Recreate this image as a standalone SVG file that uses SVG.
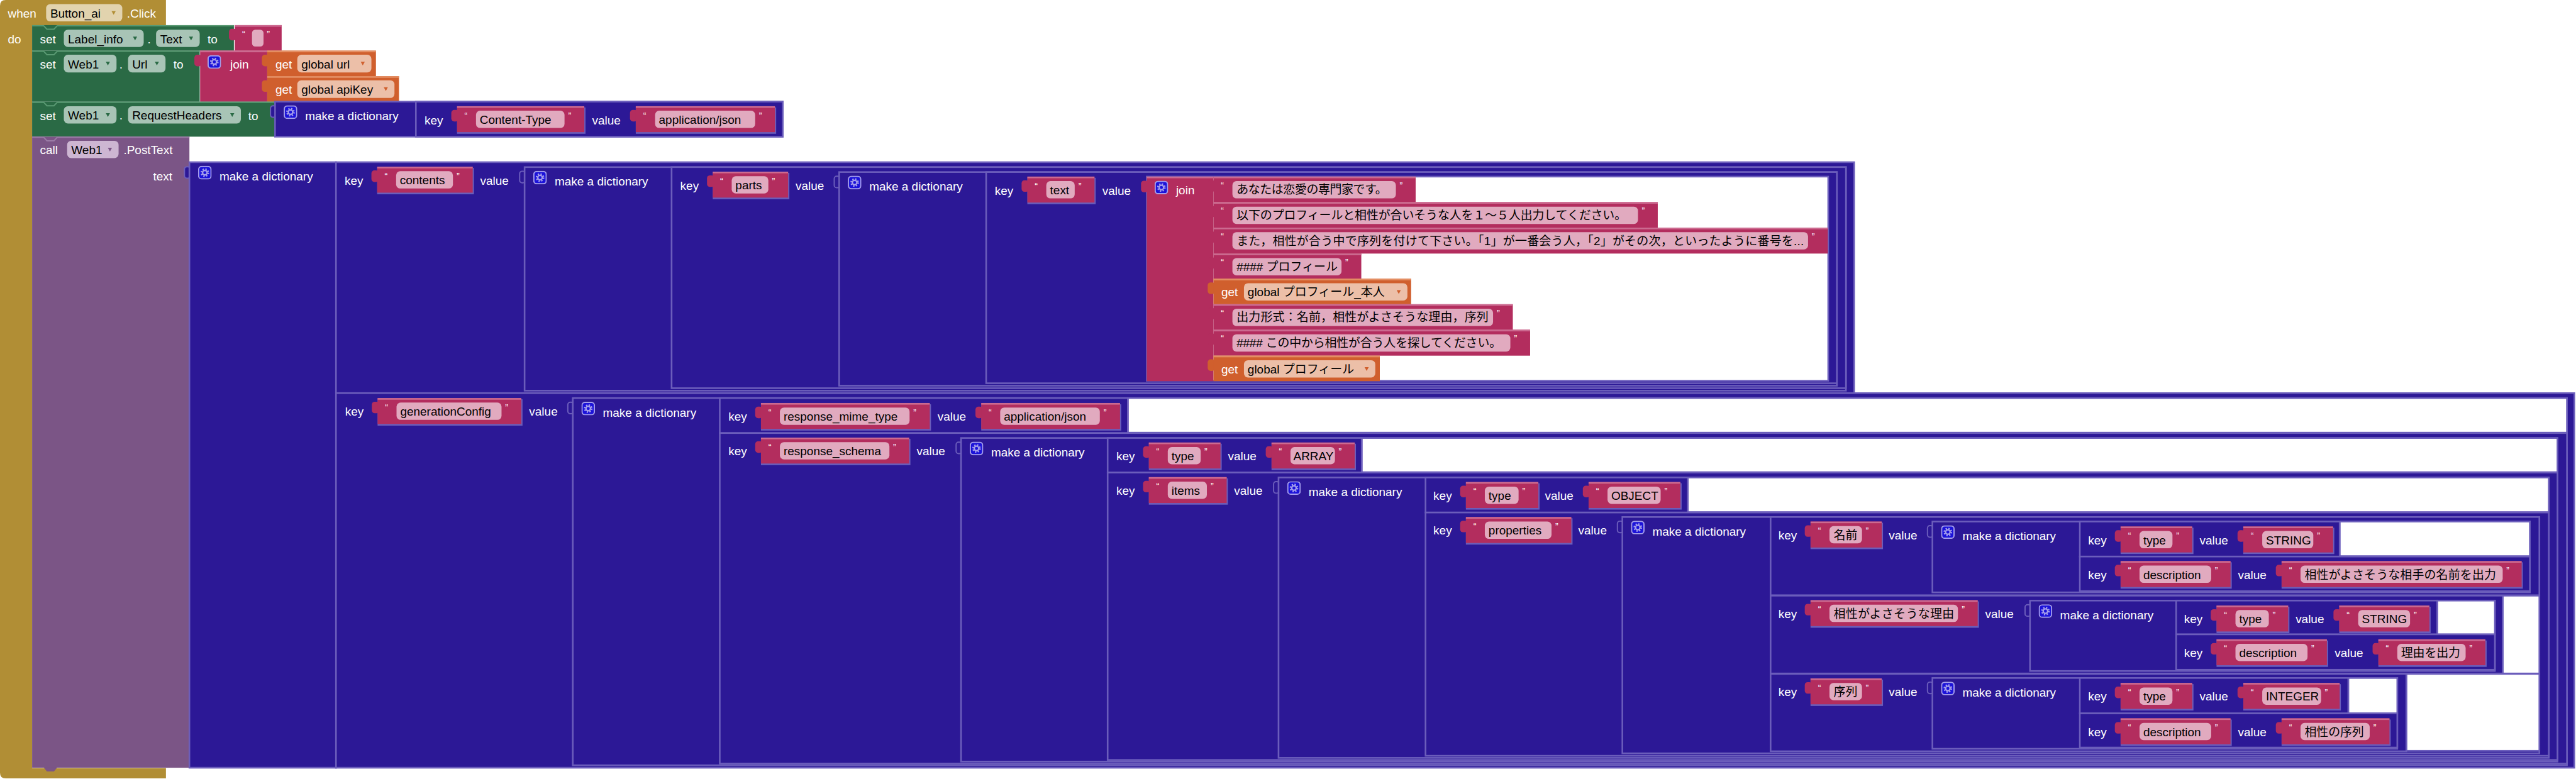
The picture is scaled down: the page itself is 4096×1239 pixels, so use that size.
<svg xmlns="http://www.w3.org/2000/svg" width="4096" height="1239" viewBox="0 0 4096 1239">
<defs>
<style>
.l{font-family:"Liberation Sans",Arial,"Noto Sans CJK JP",sans-serif;font-size:29px}
.w{fill:#fff}
.k{fill:#000}
.q{font-size:22px;fill:#fff}
.ev{fill:#B18E35}
.gr{fill:#2A6A45}
.fg{fill:#A8C4B6}
.cl{fill:#7B5586}
.fc{fill:#CDB6D2}
.fe{fill:#E2D3AE}
.dc{fill:#2C1896;stroke:#6B5DBB;stroke-width:4}
.hole{fill:#fff;stroke:#6B5DBB;stroke-width:4}
.tab{fill:#2C1896;stroke:#6B5DBB;stroke-width:3}
.tx{fill:#B32D5E}
.hl{fill:#CC6A90}
.sk{fill:#6B5DBB}
.tf{fill:#E1AABF}
.gt{fill:#D05F2D}
.gh{fill:#E48E63}
.gf{fill:#ECBFA8}
.nh{fill:none;stroke-width:3}
</style>
<symbol id="gear" viewBox="0 0 33 33">
<rect x="1.5" y="1.5" width="30" height="30" rx="7" fill="#1B12D9" stroke="#A49DEB" stroke-width="3"/>
<circle cx="16.5" cy="16.5" r="8.5" fill="none" stroke="#A49DEB" stroke-width="4" stroke-dasharray="3.3 3.4"/>
<circle cx="16.5" cy="16.5" r="5.5" fill="none" stroke="#A49DEB" stroke-width="3.5"/>
</symbol>
</defs>
<rect width="4096" height="1239" fill="#fff"/>
<g transform="scale(0.654731)">

<g id="event-button-click">
<path class="ev" d="M0,14 Q0,0 14,0 H403 V61 H78 V1866 H403 V1891 H14 Q0,1891 0,1877 Z"/>
<text class="l w" x="19" y="43">when</text>
<rect class="fe" x="112" y="10" width="185" height="42" rx="10"/>
<text class="l k" x="122" y="43">Button_ai</text>
<polygon class="ev" points="271,27 281,27 276,36"/>
<text class="l w" x="308" y="43">.Click</text>
<text class="l w" x="19" y="106">do</text>
</g>

<g id="set-label-text">
<rect class="gr" x="78" y="61" width="490" height="62"/>
<path class="nh" stroke="#5A9A73" d="M78,62.5 H106 L114,71 H131 L139,62.5 H568"/>
<text class="l w" x="97" y="105">set</text>
<rect class="fg" x="155" y="72" width="194" height="42" rx="10"/>
<text class="l k" x="165" y="105">Label_info</text>
<polygon class="gr" points="323,89 333,89 328,98"/>
<text class="l w" x="358" y="105">.</text>
<rect class="fg" x="379" y="72" width="106" height="42" rx="10"/>
<text class="l k" x="389" y="105">Text</text>
<polygon class="gr" points="459,89 469,89 464,98"/>
<text class="l w" x="504" y="105">to</text>
<g id="str-empty">
<rect class="tx" x="556" y="70" width="18" height="28" rx="7"/>
<rect class="tx" x="570" y="61" width="114" height="62"/>
<rect class="hl" x="570" y="61" width="114" height="4"/>
<rect class="tf" x="612" y="72" width="28" height="41" rx="8"/>
<text class="l q" x="588" y="90">“</text>
<text class="l q" x="648" y="90">”</text>
</g>
</g>

<g id="set-web-url">
<rect class="gr" x="78" y="123" width="407" height="124"/>
<path class="nh" stroke="#5A9A73" d="M78,124.5 H106 L114,133 H131 L139,124.5 H485"/>
<text class="l w" x="97" y="166">set</text>
<rect class="fg" x="155" y="133" width="128" height="43" rx="10"/>
<text class="l k" x="165" y="166">Web1</text>
<polygon class="gr" points="257,150 267,150 262,159"/>
<text class="l w" x="290" y="166">.</text>
<rect class="fg" x="311" y="133" width="91" height="43" rx="10"/>
<text class="l k" x="321" y="166">Url</text>
<polygon class="gr" points="376,150 386,150 381,159"/>
<text class="l w" x="421" y="166">to</text>
<g id="join-url">
<rect class="tx" x="472" y="133" width="18" height="28" rx="7"/>
<rect class="tx" x="486" y="123" width="163" height="124"/>
<rect class="hl" x="486" y="123" width="163" height="4"/>
<use href="#gear" x="504" y="134" width="33" height="33"/>
<text class="l w" x="559" y="166">join</text>
<g id="get-url">
<rect class="gt" x="636" y="133" width="18" height="28" rx="7"/>
<rect class="gt" x="649" y="123" width="264" height="62"/>
<rect class="gh" x="649" y="123" width="264" height="4"/>
<text class="l w" x="669" y="166">get</text>
<rect class="gf" x="722" y="133" width="180" height="43" rx="10"/>
<text class="l k" x="732" y="166">global url</text>
<polygon class="gt" points="876,150 886,150 881,159"/>
</g>
<g id="get-apikey">
<rect class="gt" x="636" y="195" width="18" height="28" rx="7"/>
<rect class="gt" x="649" y="185" width="320" height="62"/>
<rect class="gh" x="649" y="185" width="320" height="4"/>
<text class="l w" x="669" y="228">get</text>
<rect class="gf" x="722" y="195" width="236" height="43" rx="10"/>
<text class="l k" x="732" y="228">global apiKey</text>
<polygon class="gt" points="932,212 942,212 937,221"/>
</g>
</g>
</g>

<g id="set-web-headers">
<rect class="gr" x="78" y="247" width="590" height="85"/>
<path class="nh" stroke="#5A9A73" d="M78,248.5 H106 L114,257 H131 L139,248.5 H668"/>
<text class="l w" x="97" y="291">set</text>
<rect class="fg" x="155" y="258" width="128" height="42" rx="10"/>
<text class="l k" x="165" y="290">Web1</text>
<polygon class="gr" points="257,275 267,275 262,284"/>
<text class="l w" x="290" y="290">.</text>
<rect class="fg" x="311" y="258" width="274" height="42" rx="10"/>
<text class="l k" x="321" y="290">RequestHeaders</text>
<polygon class="gr" points="559,275 569,275 564,284"/>
<text class="l w" x="603" y="291">to</text>
<g id="dict-headers">
<rect class="tab" x="657" y="257" width="14" height="28" rx="6"/>
<rect class="dc" x="668" y="247" width="1233" height="85"/>
<use href="#gear" x="689" y="256" width="33" height="33"/>
<text class="l w" x="741" y="292">make a dictionary</text>
<g id="pair-content-type">
<rect class="dc" x="1010" y="247" width="891" height="85"/>
<text class="l w" x="1031" y="302">key</text>
<g><rect class="sk" x="1110" y="261" width="312" height="64"/><rect class="tx" x="1096" y="267" width="18" height="28" rx="7"/><rect class="tx" x="1110" y="258" width="309" height="63"/><rect class="hl" x="1110" y="258" width="309" height="4"/><rect class="tf" x="1156" y="269" width="215" height="42" rx="10"/><text class="l q" x="1128" y="288">“</text><text class="l k" x="1165" y="301">Content-Type</text><text class="l q" x="1380" y="288">”</text></g>
<text class="l w" x="1438" y="302">value</text>
<g><rect class="sk" x="1544" y="261" width="341" height="64"/><rect class="tx" x="1530" y="267" width="18" height="28" rx="7"/><rect class="tx" x="1544" y="258" width="338" height="63"/><rect class="hl" x="1544" y="258" width="338" height="4"/><rect class="tf" x="1591" y="269" width="243" height="42" rx="10"/><text class="l q" x="1562" y="288">“</text><text class="l k" x="1600" y="301">application/json</text><text class="l q" x="1843" y="288">”</text></g>
</g>
</g>
</g>

<g id="call-web-posttext">
<rect class="cl" x="78" y="332" width="382" height="1533"/>
<polygon class="cl" points="106,1864 139,1864 131,1874 114,1874"/>
<path class="nh" stroke="#9B7BA6" d="M78,333.5 H106 L114,342 H131 L139,333.5 H460"/>
<text class="l w" x="97" y="374">call</text>
<rect class="fc" x="163" y="342" width="125" height="42" rx="10"/>
<text class="l k" x="173" y="374">Web1</text>
<polygon class="cl" points="262,359 272,359 267,368"/>
<text class="l w" x="300" y="374">.PostText</text>
<text class="l w" x="372" y="438">text</text>

<g id="dict-body">
<rect class="tab" x="448" y="405" width="14" height="28" rx="6"/>
<rect class="dc" x="460" y="394" width="356" height="1471"/>
<use href="#gear" x="481" y="403" width="33" height="33"/>
<text class="l w" x="533" y="438">make a dictionary</text>

<g id="pair-contents">
<rect class="dc" x="816" y="394" width="3687" height="561"/>
<text class="l w" x="837" y="449">key</text>
<g><rect class="sk" x="916" y="408" width="235" height="64"/><rect class="tx" x="902" y="414" width="18" height="28" rx="7"/><rect class="tx" x="916" y="405" width="232" height="63"/><rect class="hl" x="916" y="405" width="232" height="4"/><rect class="tf" x="962" y="416" width="138" height="42" rx="10"/><text class="l q" x="934" y="435">“</text><text class="l k" x="971" y="448">contents</text><text class="l q" x="1109" y="435">”</text></g>
<text class="l w" x="1166" y="449">value</text>
<g id="dict-contents">
<rect class="tab" x="1262" y="416" width="14" height="28" rx="6"/>
<rect class="dc" x="1274" y="406" width="3209" height="543"/>
<use href="#gear" x="1295" y="415" width="33" height="33"/>
<text class="l w" x="1347" y="451">make a dictionary</text>
<g id="pair-parts">
<rect class="dc" x="1631" y="406" width="2852" height="537"/>
<text class="l w" x="1652" y="461">key</text>
<g><rect class="sk" x="1731" y="420" width="186" height="64"/><rect class="tx" x="1717" y="426" width="18" height="28" rx="7"/><rect class="tx" x="1731" y="417" width="183" height="63"/><rect class="hl" x="1731" y="417" width="183" height="4"/><rect class="tf" x="1777" y="428" width="89" height="42" rx="10"/><text class="l q" x="1749" y="447">“</text><text class="l k" x="1786" y="460">parts</text><text class="l q" x="1875" y="447">”</text></g>
<text class="l w" x="1932" y="461">value</text>
<g id="dict-parts">
<rect class="tab" x="2026" y="428" width="14" height="28" rx="6"/>
<rect class="dc" x="2038" y="418" width="2423" height="519"/>
<use href="#gear" x="2059" y="427" width="33" height="33"/>
<text class="l w" x="2111" y="463">make a dictionary</text>
<g id="pair-text">
<rect class="dc" x="2395" y="418" width="2066" height="513"/>
<text class="l w" x="2416" y="473">key</text>
<g><rect class="sk" x="2495" y="432" width="166" height="64"/><rect class="tx" x="2481" y="438" width="18" height="28" rx="7"/><rect class="tx" x="2495" y="429" width="163" height="63"/><rect class="hl" x="2495" y="429" width="163" height="4"/><rect class="tf" x="2541" y="440" width="69" height="42" rx="10"/><text class="l q" x="2513" y="459">“</text><text class="l k" x="2550" y="472">text</text><text class="l q" x="2619" y="459">”</text></g>
<text class="l w" x="2677" y="473">value</text>
<rect class="hole" x="2785" y="429" width="1655" height="496"/>
<g id="join-prompt">
<rect class="tx" x="2771" y="439" width="18" height="28" rx="7"/>
<rect class="tx" x="2785" y="429" width="162" height="497"/>
<rect class="hl" x="2785" y="429" width="162" height="4"/>
<use href="#gear" x="2804" y="439" width="33" height="33"/>
<text class="l w" x="2856" y="472">join</text>
<g><rect class="tx" x="2933" y="438" width="18" height="28" rx="7"/><rect class="tx" x="2947" y="429" width="491" height="62"/><rect class="hl" x="2947" y="429" width="491" height="4"/><rect class="tf" x="2993" y="440" width="397" height="42" rx="10"/><text class="l q" x="2965" y="458">“</text><text class="l k" x="3003" y="471" textLength="366">あなたは恋愛の専門家です。</text><text class="l q" x="3399" y="458">”</text></g>
<g><rect class="tx" x="2933" y="500" width="18" height="28" rx="7"/><rect class="tx" x="2947" y="491" width="1079" height="62"/><rect class="hl" x="2947" y="491" width="1079" height="4"/><rect class="tf" x="2993" y="502" width="985" height="42" rx="10"/><text class="l q" x="2965" y="520">“</text><text class="l k" x="3003" y="533" textLength="947">以下のプロフィールと相性が合いそうな人を１〜５人出力してください。</text><text class="l q" x="3987" y="520">”</text></g>
<g><rect class="tx" x="2933" y="562" width="18" height="28" rx="7"/><rect class="tx" x="2947" y="553" width="1492" height="63"/><rect class="hl" x="2947" y="553" width="1492" height="4"/><rect class="tf" x="2993" y="564" width="1398" height="42" rx="10"/><text class="l q" x="2965" y="582">“</text><text class="l k" x="3003" y="595" textLength="1378">また，相性が合う中で序列を付けて下さい。「1」が一番会う人，「2」がその次，といったように番号を...</text><text class="l q" x="4400" y="582">”</text></g>
<g><rect class="tx" x="2933" y="625" width="18" height="28" rx="7"/><rect class="tx" x="2947" y="616" width="359" height="61"/><rect class="hl" x="2947" y="616" width="359" height="4"/><rect class="tf" x="2993" y="627" width="265" height="42" rx="10"/><text class="l q" x="2965" y="645">“</text><text class="l k" x="3003" y="658">#### プロフィール</text><text class="l q" x="3267" y="645">”</text></g>
<g><rect class="gt" x="2933" y="686" width="18" height="28" rx="7"/><rect class="gt" x="2947" y="677" width="480" height="62"/><rect class="gh" x="2947" y="677" width="480" height="4"/><text class="l w" x="2966" y="720">get</text><rect class="gf" x="3021" y="688" width="397" height="42" rx="10"/><text class="l k" x="3030" y="720">global プロフィール_本人</text><polygon class="gt" points="3392,705 3402,705 3397,714"/></g>
<g><rect class="tx" x="2933" y="748" width="18" height="28" rx="7"/><rect class="tx" x="2947" y="739" width="727" height="62"/><rect class="hl" x="2947" y="739" width="727" height="4"/><rect class="tf" x="2993" y="750" width="633" height="42" rx="10"/><text class="l q" x="2965" y="768">“</text><text class="l k" x="3003" y="781" textLength="612">出力形式：名前，相性がよさそうな理由，序列</text><text class="l q" x="3635" y="768">”</text></g>
<g><rect class="tx" x="2933" y="810" width="18" height="28" rx="7"/><rect class="tx" x="2947" y="801" width="769" height="63"/><rect class="hl" x="2947" y="801" width="769" height="4"/><rect class="tf" x="2993" y="812" width="675" height="42" rx="10"/><text class="l q" x="2965" y="830">“</text><text class="l k" x="3003" y="843" textLength="643">#### この中から相性が合う人を探してください。</text><text class="l q" x="3677" y="830">”</text></g>
<g><rect class="gt" x="2933" y="873" width="18" height="28" rx="7"/><rect class="gt" x="2947" y="864" width="404" height="62"/><rect class="gh" x="2947" y="864" width="404" height="4"/><text class="l w" x="2966" y="907">get</text><rect class="gf" x="3021" y="875" width="319" height="42" rx="10"/><text class="l k" x="3030" y="907">global プロフィール</text><polygon class="gt" points="3314,892 3324,892 3319,901"/></g>
</g>
</g>
</g>
</g>
</g>
</g>

<g id="pair-generationconfig">
<rect class="dc" x="816" y="955" width="5436" height="910"/>
<text class="l w" x="838" y="1010">key</text>
<g><rect class="sk" x="917" y="970" width="352" height="64"/><rect class="tx" x="903" y="976" width="18" height="28" rx="7"/><rect class="tx" x="917" y="967" width="349" height="63"/><rect class="hl" x="917" y="967" width="349" height="4"/><rect class="tf" x="963" y="978" width="255" height="42" rx="10"/><text class="l q" x="935" y="997">“</text><text class="l k" x="972" y="1010">generationConfig</text><text class="l q" x="1227" y="997">”</text></g>
<text class="l w" x="1285" y="1010">value</text>
<g id="dict-generationconfig">
<rect class="tab" x="1379" y="977" width="14" height="28" rx="6"/>
<rect class="dc" x="1391" y="967" width="4843" height="892"/>
<rect class="hole" x="2739" y="967" width="3495" height="84"/>
<use href="#gear" x="1412" y="976" width="33" height="33"/>
<text class="l w" x="1464" y="1012">make a dictionary</text>
<g id="pair-mime">
<rect class="dc" x="1748" y="967" width="991" height="85"/>
<text class="l w" x="1769" y="1022">key</text>
<g><rect class="sk" x="1848" y="982" width="413" height="64"/><rect class="tx" x="1834" y="988" width="18" height="28" rx="7"/><rect class="tx" x="1848" y="979" width="410" height="63"/><rect class="hl" x="1848" y="979" width="410" height="4"/><rect class="tf" x="1894" y="990" width="315" height="42" rx="10"/><text class="l q" x="1866" y="1009">“</text><text class="l k" x="1903" y="1022">response_mime_type</text><text class="l q" x="2218" y="1009">”</text></g>
<text class="l w" x="2277" y="1022">value</text>
<g><rect class="sk" x="2383" y="982" width="340" height="64"/><rect class="tx" x="2369" y="988" width="18" height="28" rx="7"/><rect class="tx" x="2383" y="979" width="337" height="63"/><rect class="hl" x="2383" y="979" width="337" height="4"/><rect class="tf" x="2429" y="990" width="242" height="42" rx="10"/><text class="l q" x="2401" y="1009">“</text><text class="l k" x="2438" y="1022">application/json</text><text class="l q" x="2680" y="1009">”</text></g>
</g>
<g id="pair-schema">
<rect class="dc" x="1748" y="1052" width="4486" height="803"/>
<text class="l w" x="1769" y="1106">key</text>
<g><rect class="sk" x="1848" y="1066" width="363" height="64"/><rect class="tx" x="1834" y="1072" width="18" height="28" rx="7"/><rect class="tx" x="1848" y="1063" width="360" height="63"/><rect class="hl" x="1848" y="1063" width="360" height="4"/><rect class="tf" x="1894" y="1074" width="266" height="42" rx="10"/><text class="l q" x="1866" y="1093">“</text><text class="l k" x="1903" y="1106">response_schema</text><text class="l q" x="2169" y="1093">”</text></g>
<text class="l w" x="2226" y="1106">value</text>
<g id="dict-schema">
<rect class="tab" x="2322" y="1074" width="14" height="28" rx="6"/>
<rect class="dc" x="2334" y="1064" width="3877" height="786"/>
<rect class="hole" x="3307" y="1064" width="2904" height="83"/>
<use href="#gear" x="2355" y="1073" width="33" height="33"/>
<text class="l w" x="2407" y="1109">make a dictionary</text>
<g id="pair-type-array">
<rect class="dc" x="2690" y="1064" width="617" height="84"/>
<text class="l w" x="2711" y="1118">key</text>
<g><rect class="sk" x="2790" y="1078" width="177" height="64"/><rect class="tx" x="2776" y="1084" width="18" height="28" rx="7"/><rect class="tx" x="2790" y="1075" width="174" height="63"/><rect class="hl" x="2790" y="1075" width="174" height="4"/><rect class="tf" x="2836" y="1086" width="80" height="42" rx="10"/><text class="l q" x="2808" y="1105">“</text><text class="l k" x="2845" y="1118">type</text><text class="l q" x="2925" y="1105">”</text></g>
<text class="l w" x="2982" y="1118">value</text>
<g><rect class="sk" x="3088" y="1078" width="205" height="64"/><rect class="tx" x="3074" y="1084" width="18" height="28" rx="7"/><rect class="tx" x="3088" y="1075" width="202" height="63"/><rect class="hl" x="3088" y="1075" width="202" height="4"/><rect class="tf" x="3134" y="1086" width="108" height="42" rx="10"/><text class="l q" x="3106" y="1105">“</text><text class="l k" x="3141" y="1118">ARRAY</text><text class="l q" x="3251" y="1105">”</text></g>
</g>
<g id="pair-items">
<rect class="dc" x="2690" y="1148" width="3521" height="698"/>
<text class="l w" x="2711" y="1202">key</text>
<g><rect class="sk" x="2790" y="1162" width="192" height="64"/><rect class="tx" x="2776" y="1168" width="18" height="28" rx="7"/><rect class="tx" x="2790" y="1159" width="189" height="63"/><rect class="hl" x="2790" y="1159" width="189" height="4"/><rect class="tf" x="2836" y="1170" width="95" height="42" rx="10"/><text class="l q" x="2808" y="1189">“</text><text class="l k" x="2845" y="1202">items</text><text class="l q" x="2940" y="1189">”</text></g>
<text class="l w" x="2997" y="1202">value</text>
<g id="dict-items">
<rect class="tab" x="3093" y="1170" width="14" height="28" rx="6"/>
<rect class="dc" x="3105" y="1160" width="3085" height="681"/>
<rect class="hole" x="4099" y="1160" width="2091" height="84"/>
<use href="#gear" x="3126" y="1169" width="33" height="33"/>
<text class="l w" x="3178" y="1205">make a dictionary</text>
<g id="pair-type-object">
<rect class="dc" x="3462" y="1160" width="637" height="85"/>
<text class="l w" x="3481" y="1214">key</text>
<g><rect class="sk" x="3560" y="1174" width="179" height="64"/><rect class="tx" x="3546" y="1180" width="18" height="28" rx="7"/><rect class="tx" x="3560" y="1171" width="176" height="63"/><rect class="hl" x="3560" y="1171" width="176" height="4"/><rect class="tf" x="3606" y="1182" width="82" height="42" rx="10"/><text class="l q" x="3578" y="1201">“</text><text class="l k" x="3615" y="1214">type</text><text class="l q" x="3697" y="1201">”</text></g>
<text class="l w" x="3752" y="1214">value</text>
<g><rect class="sk" x="3858" y="1174" width="226" height="64"/><rect class="tx" x="3844" y="1180" width="18" height="28" rx="7"/><rect class="tx" x="3858" y="1171" width="223" height="63"/><rect class="hl" x="3858" y="1171" width="223" height="4"/><rect class="tf" x="3904" y="1182" width="129" height="42" rx="10"/><text class="l q" x="3876" y="1201">“</text><text class="l k" x="3913" y="1214">OBJECT</text><text class="l q" x="4042" y="1201">”</text></g>
</g>
<g id="pair-properties">
<rect class="dc" x="3462" y="1245" width="2728" height="591"/>
<text class="l w" x="3481" y="1299">key</text>
<g><rect class="sk" x="3560" y="1259" width="259" height="64"/><rect class="tx" x="3546" y="1265" width="18" height="28" rx="7"/><rect class="tx" x="3560" y="1256" width="256" height="63"/><rect class="hl" x="3560" y="1256" width="256" height="4"/><rect class="tf" x="3606" y="1267" width="162" height="42" rx="10"/><text class="l q" x="3578" y="1286">“</text><text class="l k" x="3615" y="1299">properties</text><text class="l q" x="3777" y="1286">”</text></g>
<text class="l w" x="3833" y="1299">value</text>
<g id="dict-properties">
<rect class="tab" x="3928" y="1266" width="14" height="28" rx="6"/>
<rect class="dc" x="3940" y="1256" width="2227" height="574"/>
<rect class="hole" x="6078" y="1447" width="89" height="189"/>
<rect class="hole" x="5844" y="1637" width="323" height="187"/>
<use href="#gear" x="3961" y="1265" width="33" height="33"/>
<text class="l w" x="4013" y="1301">make a dictionary</text>

<g id="pair-name">
<rect class="dc" x="4300" y="1256" width="1867" height="190"/>
<text class="l w" x="4319" y="1310">key</text>
<g><rect class="sk" x="4397" y="1270" width="176" height="64"/><rect class="tx" x="4383" y="1276" width="18" height="28" rx="7"/><rect class="tx" x="4397" y="1267" width="173" height="63"/><rect class="hl" x="4397" y="1267" width="173" height="4"/><rect class="tf" x="4443" y="1278" width="79" height="42" rx="10"/><text class="l q" x="4415" y="1297">“</text><text class="l k" x="4453" y="1310">名前</text><text class="l q" x="4531" y="1297">”</text></g>
<text class="l w" x="4587" y="1310">value</text>
<g id="dict-name">
<rect class="tab" x="4681" y="1277" width="14" height="28" rx="6"/>
<rect class="dc" x="4693" y="1267" width="1451" height="172"/>
<rect class="hole" x="5682" y="1267" width="462" height="84"/>
<use href="#gear" x="4714" y="1276" width="33" height="33"/>
<text class="l w" x="4766" y="1312">make a dictionary</text>
<g id="pair-name-type">
<rect class="dc" x="5051" y="1267" width="631" height="85"/>
<text class="l w" x="5071" y="1322">key</text>
<g><rect class="sk" x="5150" y="1282" width="177" height="64"/><rect class="tx" x="5136" y="1288" width="18" height="28" rx="7"/><rect class="tx" x="5150" y="1279" width="174" height="63"/><rect class="hl" x="5150" y="1279" width="174" height="4"/><rect class="tf" x="5196" y="1290" width="80" height="42" rx="10"/><text class="l q" x="5168" y="1309">“</text><text class="l k" x="5205" y="1322">type</text><text class="l q" x="5285" y="1309">”</text></g>
<text class="l w" x="5342" y="1322">value</text>
<g><rect class="sk" x="5448" y="1282" width="221" height="64"/><rect class="tx" x="5434" y="1288" width="18" height="28" rx="7"/><rect class="tx" x="5448" y="1279" width="218" height="63"/><rect class="hl" x="5448" y="1279" width="218" height="4"/><rect class="tf" x="5494" y="1290" width="124" height="42" rx="10"/><text class="l q" x="5466" y="1309">“</text><text class="l k" x="5503" y="1322">STRING</text><text class="l q" x="5627" y="1309">”</text></g>
</g>
<g id="pair-name-desc">
<rect class="dc" x="5051" y="1352" width="1093" height="84"/>
<text class="l w" x="5071" y="1406">key</text>
<g><rect class="sk" x="5150" y="1366" width="270" height="64"/><rect class="tx" x="5136" y="1372" width="18" height="28" rx="7"/><rect class="tx" x="5150" y="1363" width="267" height="63"/><rect class="hl" x="5150" y="1363" width="267" height="4"/><rect class="tf" x="5196" y="1374" width="174" height="42" rx="10"/><text class="l q" x="5168" y="1393">“</text><text class="l k" x="5205" y="1406">description</text><text class="l q" x="5379" y="1393">”</text></g>
<text class="l w" x="5435" y="1406">value</text>
<g><rect class="sk" x="5541" y="1366" width="586" height="64"/><rect class="tx" x="5527" y="1372" width="18" height="28" rx="7"/><rect class="tx" x="5541" y="1363" width="583" height="63"/><rect class="hl" x="5541" y="1363" width="583" height="4"/><rect class="tf" x="5587" y="1374" width="491" height="42" rx="10"/><text class="l q" x="5559" y="1393">“</text><text class="l k" x="5597" y="1406" textLength="465">相性がよさそうな相手の名前を出力</text><text class="l q" x="6087" y="1393">”</text></g>
</g>
</g>
</g>

<g id="pair-reason">
<rect class="dc" x="4300" y="1447" width="1778" height="189"/>
<text class="l w" x="4319" y="1501">key</text>
<g><rect class="sk" x="4397" y="1461" width="409" height="64"/><rect class="tx" x="4383" y="1467" width="18" height="28" rx="7"/><rect class="tx" x="4397" y="1458" width="406" height="63"/><rect class="hl" x="4397" y="1458" width="406" height="4"/><rect class="tf" x="4443" y="1469" width="312" height="42" rx="10"/><text class="l q" x="4415" y="1488">“</text><text class="l k" x="4453" y="1501" textLength="293">相性がよさそうな理由</text><text class="l q" x="4764" y="1488">”</text></g>
<text class="l w" x="4821" y="1501">value</text>
<g id="dict-reason">
<rect class="tab" x="4918" y="1469" width="14" height="28" rx="6"/>
<rect class="dc" x="4930" y="1459" width="1129" height="171"/>
<rect class="hole" x="5919" y="1459" width="140" height="82"/>
<use href="#gear" x="4951" y="1468" width="33" height="33"/>
<text class="l w" x="5003" y="1504">make a dictionary</text>
<g id="pair-reason-type">
<rect class="dc" x="5285" y="1459" width="634" height="82"/>
<text class="l w" x="5304" y="1514">key</text>
<g><rect class="sk" x="5383" y="1474" width="177" height="64"/><rect class="tx" x="5369" y="1480" width="18" height="28" rx="7"/><rect class="tx" x="5383" y="1471" width="174" height="63"/><rect class="hl" x="5383" y="1471" width="174" height="4"/><rect class="tf" x="5429" y="1482" width="81" height="42" rx="10"/><text class="l q" x="5401" y="1501">“</text><text class="l k" x="5438" y="1514">type</text><text class="l q" x="5519" y="1501">”</text></g>
<text class="l w" x="5575" y="1514">value</text>
<g><rect class="sk" x="5681" y="1474" width="222" height="64"/><rect class="tx" x="5667" y="1480" width="18" height="28" rx="7"/><rect class="tx" x="5681" y="1471" width="219" height="63"/><rect class="hl" x="5681" y="1471" width="219" height="4"/><rect class="tf" x="5727" y="1482" width="126" height="42" rx="10"/><text class="l q" x="5699" y="1501">“</text><text class="l k" x="5736" y="1514">STRING</text><text class="l q" x="5862" y="1501">”</text></g>
</g>
<g id="pair-reason-desc">
<rect class="dc" x="5285" y="1541" width="774" height="86"/>
<text class="l w" x="5304" y="1596">key</text>
<g><rect class="sk" x="5383" y="1556" width="271" height="64"/><rect class="tx" x="5369" y="1562" width="18" height="28" rx="7"/><rect class="tx" x="5383" y="1553" width="268" height="63"/><rect class="hl" x="5383" y="1553" width="268" height="4"/><rect class="tf" x="5429" y="1564" width="175" height="42" rx="10"/><text class="l q" x="5401" y="1583">“</text><text class="l k" x="5438" y="1596">description</text><text class="l q" x="5613" y="1583">”</text></g>
<text class="l w" x="5670" y="1596">value</text>
<g><rect class="sk" x="5776" y="1556" width="263" height="64"/><rect class="tx" x="5762" y="1562" width="18" height="28" rx="7"/><rect class="tx" x="5776" y="1553" width="260" height="63"/><rect class="hl" x="5776" y="1553" width="260" height="4"/><rect class="tf" x="5822" y="1564" width="166" height="42" rx="10"/><text class="l q" x="5794" y="1583">“</text><text class="l k" x="5831" y="1596" textLength="144">理由を出力</text><text class="l q" x="5997" y="1583">”</text></g>
</g>
</g>
</g>

<g id="pair-rank">
<rect class="dc" x="4300" y="1637" width="1544" height="188"/>
<text class="l w" x="4319" y="1691">key</text>
<g><rect class="sk" x="4397" y="1651" width="176" height="64"/><rect class="tx" x="4383" y="1657" width="18" height="28" rx="7"/><rect class="tx" x="4397" y="1648" width="173" height="63"/><rect class="hl" x="4397" y="1648" width="173" height="4"/><rect class="tf" x="4443" y="1659" width="79" height="42" rx="10"/><text class="l q" x="4415" y="1678">“</text><text class="l k" x="4453" y="1691">序列</text><text class="l q" x="4531" y="1678">”</text></g>
<text class="l w" x="4587" y="1691">value</text>
<g id="dict-rank">
<rect class="tab" x="4681" y="1657" width="14" height="28" rx="6"/>
<rect class="dc" x="4693" y="1647" width="1129" height="172"/>
<rect class="hole" x="5703" y="1647" width="119" height="86"/>
<use href="#gear" x="4714" y="1656" width="33" height="33"/>
<text class="l w" x="4766" y="1692">make a dictionary</text>
<g id="pair-rank-type">
<rect class="dc" x="5051" y="1647" width="652" height="86"/>
<text class="l w" x="5071" y="1702">key</text>
<g><rect class="sk" x="5150" y="1662" width="177" height="64"/><rect class="tx" x="5136" y="1668" width="18" height="28" rx="7"/><rect class="tx" x="5150" y="1659" width="174" height="63"/><rect class="hl" x="5150" y="1659" width="174" height="4"/><rect class="tf" x="5196" y="1670" width="80" height="42" rx="10"/><text class="l q" x="5168" y="1689">“</text><text class="l k" x="5205" y="1702">type</text><text class="l q" x="5285" y="1689">”</text></g>
<text class="l w" x="5342" y="1702">value</text>
<g><rect class="sk" x="5448" y="1662" width="237" height="64"/><rect class="tx" x="5434" y="1668" width="18" height="28" rx="7"/><rect class="tx" x="5448" y="1659" width="234" height="63"/><rect class="hl" x="5448" y="1659" width="234" height="4"/><rect class="tf" x="5494" y="1670" width="143" height="42" rx="10"/><text class="l q" x="5466" y="1689">“</text><text class="l k" x="5503" y="1702">INTEGER</text><text class="l q" x="5646" y="1689">”</text></g>
</g>
<g id="pair-rank-desc">
<rect class="dc" x="5051" y="1733" width="771" height="83"/>
<text class="l w" x="5071" y="1788">key</text>
<g><rect class="sk" x="5150" y="1748" width="270" height="64"/><rect class="tx" x="5136" y="1754" width="18" height="28" rx="7"/><rect class="tx" x="5150" y="1745" width="267" height="63"/><rect class="hl" x="5150" y="1745" width="267" height="4"/><rect class="tf" x="5196" y="1756" width="174" height="42" rx="10"/><text class="l q" x="5168" y="1775">“</text><text class="l k" x="5205" y="1788">description</text><text class="l q" x="5379" y="1775">”</text></g>
<text class="l w" x="5435" y="1788">value</text>
<g><rect class="sk" x="5541" y="1748" width="265" height="64"/><rect class="tx" x="5527" y="1754" width="18" height="28" rx="7"/><rect class="tx" x="5541" y="1745" width="262" height="63"/><rect class="hl" x="5541" y="1745" width="262" height="4"/><rect class="tf" x="5587" y="1756" width="168" height="42" rx="10"/><text class="l q" x="5559" y="1775">“</text><text class="l k" x="5597" y="1788" textLength="144">相性の序列</text><text class="l q" x="5764" y="1775">”</text></g>
</g>
</g>
</g>

</g>
</g>
</g>
</g>
</g>
</g>
</g>
</g>
</g>
</g>
</g>
</svg>
